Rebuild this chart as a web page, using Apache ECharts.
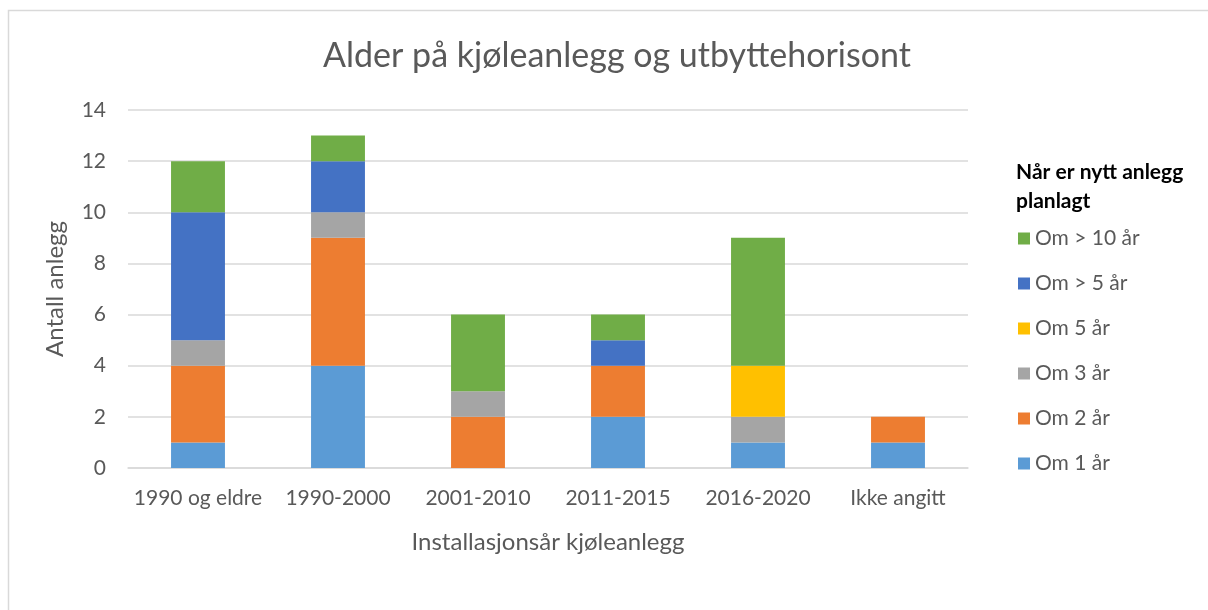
<!DOCTYPE html>
<html>
<head>
<meta charset="utf-8">
<script src="https://cdn.jsdelivr.net/npm/echarts@6/dist/echarts.min.js"></script>
<style>
html,body{margin:0;padding:0;background:#fff;}
#chart{width:1208px;height:610px;}
</style>
</head>
<body>
<div id="chart"></div>
<script>
const categories = ['1990 og eldre', '1990-2000', '2001-2010', '2011-2015', '2016-2020', 'Ikke angitt'];
const seriesNames = ['Om 1 år', 'Om 2 år', 'Om 3 år', 'Om 5 år', 'Om > 5 år', 'Om > 10 år'];
const om1 = [1, 4, 0, 2, 1, 1];
const om2 = [3, 5, 2, 2, 0, 1];
const om3 = [1, 1, 1, 0, 1, 0];
const om5 = [0, 0, 0, 0, 2, 0];
const omOver5 = [5, 2, 0, 1, 0, 0];
const omOver10 = [2, 1, 3, 1, 5, 0];
const colors = ['#5B9BD5', '#ED7D31', '#A5A5A5', '#FFC000', '#4472C4', '#70AD47'];
const yTicks = [0, 2, 4, 6, 8, 10, 12, 14];

const FONT = 'Lato, "Open Sans", sans-serif';
const TXT = '#595959';
const allData = [om1, om2, om3, om5, omOver5, omOver10];

const chart = echarts.init(document.getElementById('chart'), null, {renderer: 'canvas'});
chart.setOption({
  animation: false,
  textStyle: {fontFamily: FONT},
  title: [{
    text: 'Alder på kjøleanlegg og utbyttehorisont',
    left: 612, top: 34, textAlign: 'center',
    textStyle: {fontFamily: FONT, fontSize: 34, fontWeight: 'normal', color: TXT}
  }, {
    text: 'Når er nytt anlegg\nplanlagt',
    left: 1011, top: 153,
    textStyle: {fontFamily: FONT, fontSize: 21, fontWeight: 'bold', color: '#000', lineHeight: 29}
  }],
  graphic: [{
    type: 'rect', shape: {x: 8.5, y: 10.5, width: 1230, height: 640},
    style: {fill: 'none', stroke: '#d9d9d9', lineWidth: 1.5}, silent: true
  }],
  legend: {
    orient: 'vertical', left: 1013, top: 223,
    data: seriesNames.slice().reverse(),
    itemWidth: 12, itemHeight: 12, itemGap: 24,
    icon: 'rect',
    textStyle: {fontFamily: FONT, fontSize: 21, color: TXT, padding: [0, 0, 0, 0]}
  },
  grid: {left: 128, right: 240, top: 110, bottom: 142},
  xAxis: {
    type: 'category', data: categories,
    name: 'Installasjonsår kjøleanlegg', nameLocation: 'middle', nameGap: 62,
    nameTextStyle: {fontFamily: FONT, fontSize: 24, color: TXT},
    axisLine: {lineStyle: {color: '#d9d9d9', width: 1.5}},
    axisTick: {show: false},
    axisLabel: {fontFamily: FONT, fontSize: 21, color: TXT, margin: 20, interval: 0}
  },
  yAxis: {
    type: 'value', min: 0, max: 14, interval: 2,
    name: 'Antall anlegg', nameLocation: 'middle', nameGap: 61, nameRotate: 90,
    nameTextStyle: {fontFamily: FONT, fontSize: 24, color: TXT},
    axisLine: {show: false}, axisTick: {show: false},
    axisLabel: {fontFamily: FONT, fontSize: 21, color: TXT, margin: 22,
      formatter: v => yTicks.includes(v) ? String(v) : ''},
    splitLine: {lineStyle: {color: '#d9d9d9', width: 1.5}}
  },
  series: seriesNames.map((n, i) => ({
    name: n, type: 'bar', stack: 'total', barWidth: '38.5%',
    data: allData[i], itemStyle: {color: colors[i]}
  }))
});
</script>
</body>
</html>
